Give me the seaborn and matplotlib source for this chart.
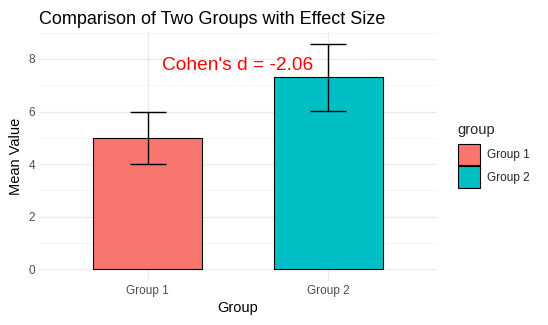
import matplotlib
matplotlib.use("Agg")
import matplotlib.pyplot as plt
import seaborn as sns
import pandas as pd
from matplotlib.patches import Patch
from matplotlib.ticker import MultipleLocator

# ---- data ----
groups = ["Group 1", "Group 2"]
means = [4.98, 7.30]
errs = [0.99, 1.28]
colors = ["#F8766D", "#00BFC4"]
effect_label = "Cohen's d = -2.06"
effect_y = 7.75
yticks = [0, 2, 4, 6, 8]

df = pd.DataFrame({"group": groups, "mean": means, "err": errs})

sns.set_theme(style="white")
plt.rcParams["font.family"] = ["Liberation Sans", "DejaVu Sans"]

fig = plt.figure(figsize=(5.48, 3.25), dpi=100)
ax = fig.add_axes([0.0717, 0.1366, 0.7253, 0.7652])

sns.barplot(data=df, x="group", y="mean", hue="group", palette=colors,
            dodge=False, width=0.6, edgecolor="black", linewidth=0.8,
            saturation=1, legend=False, ax=ax, zorder=2)

xs = list(range(len(groups)))
lo = [m - e for m, e in zip(means, errs)]
hi = [m + e for m, e in zip(means, errs)]
ax.vlines(xs, lo, hi, color="black", linewidth=1.0, zorder=3)
for x, l, h in zip(xs, lo, hi):
    ax.hlines([l, h], x - 0.1, x + 0.1, color="black", linewidth=1.0, zorder=3)

ax.text(0.5, effect_y, effect_label, color="red", fontsize=13.8,
        ha="center", va="center", zorder=4)

ax.set_xlim(-0.6, 1.6)
ax.set_ylim(-0.43, 9.03)
ax.set_yticks(yticks)
ax.yaxis.set_minor_locator(MultipleLocator(1))
ax.grid(True, which="major", axis="both", color="#EBEBEB", linewidth=1.0, zorder=0)
ax.grid(True, which="minor", axis="y", color="#F2F2F2", linewidth=0.6, zorder=0)
ax.set_axisbelow(True)
for s in ax.spines.values():
    s.set_visible(False)
ax.tick_params(axis="both", which="both", length=0, labelsize=8.5,
               labelcolor="#4D4D4D", pad=3)

ax.set_xlabel("Group", fontsize=10.5, color="black", labelpad=3)
ax.set_ylabel("Mean Value", fontsize=10.5, color="black", labelpad=4)
ax.set_title("Comparison of Two Groups with Effect Size", fontsize=13,
             loc="left", pad=6, color="black")

handles = [Patch(facecolor=c, edgecolor="black", linewidth=0.8) for c in colors]
leg = fig.legend(handles, groups, title="group", loc="upper left",
                 bbox_to_anchor=(0.835, 0.622), frameon=False,
                 fontsize=8.5, title_fontsize=10.5,
                 handlelength=1.9, handleheight=2.45, labelspacing=0.08,
                 handletextpad=0.6, borderaxespad=0, borderpad=0)
leg._legend_box.align = "left"
leg._legend_box.sep = 5

fig.savefig("out.png", dpi=100)
